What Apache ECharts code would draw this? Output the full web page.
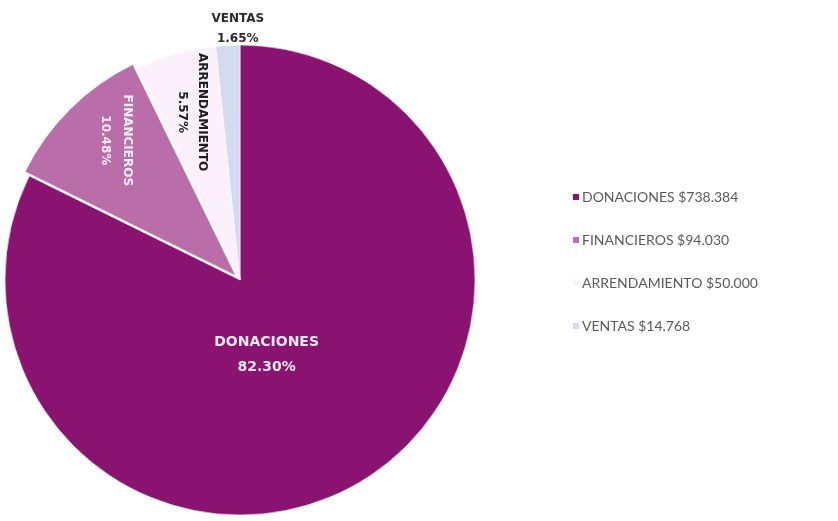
<!DOCTYPE html>
<html>
<head>
<meta charset="utf-8">
<script src="https://cdn.jsdelivr.net/npm/echarts@6/dist/echarts.min.js"></script>
<style>
  html, body { margin: 0; padding: 0; background: #fff; }
  #chart { width: 838px; height: 521px; }
</style>
</head>
<body>
<div id="chart"></div>
<script>
const categories = ['DONACIONES', 'FINANCIEROS', 'ARRENDAMIENTO', 'VENTAS']
const amounts = [738384, 94030, 50000, 14768]
const percentLabels = ['82.30%', '10.48%', '5.57%', '1.65%']

const colors = ['#8a1270', '#b96eaa', '#fcf0fa', '#d3dbf0']
// label tweaks per slice: text colour, size, rotation, nudge (in the label's own frame)
const labelColors = ['#f6e8f2', '#fbeef8', '#1e1e1e', '#2a2a2a']
const labelSizes = [14, 12, 12, 12]
const labelLines = [25, 22, 20, 20]
const labelRotate = [0, -90, -90, 0]
const labelShift = [[-37, -27], [-50, 35], [-52, 15], [4, -131]]

function money(v) {
  return '$' + String(v).replace(/\B(?=(\d{3})+(?!\d))/g, '.')
}

const chart = echarts.init(document.getElementById('chart'))

chart.setOption({
  backgroundColor: '#fff',
  animation: false,
  legend: {
    orient: 'vertical',
    left: 566,
    top: 184,
    itemWidth: 8,
    itemHeight: 8,
    itemGap: 27,
    icon: 'rect',
    data: categories,
    formatter: function(name) {
      return name + ' ' + money(amounts[categories.indexOf(name)])
    },
    textStyle: {
      fontFamily: 'Lato',
      fontSize: 14,
      lineHeight: 16,
      color: '#5a5a5a',
      padding: [0, 0, 0, -3]
    }
  },
  series: [
    {
      type: 'pie',
      center: [240, 280],
      radius: 235,
      startAngle: 90,
      clockwise: true,
      selectedMode: 'single',
      selectedOffset: 6,
      itemStyle: {
        borderColor: '#ffffff',
        borderWidth: 0.6
      },
      label: {
        show: true,
        position: 'inside',
        fontFamily: 'DejaVu Sans',
        fontWeight: 'bold'
      },
      labelLine: { show: false },
      labelLayout: function(params) {
        const s = labelShift[params.dataIndex]
        return { dx: s[0], dy: s[1] }
      },
      emphasis: { scale: false },
      data: categories.map((name, i) => ({
        name: name,
        value: amounts[i],
        selected: i === 1,
        itemStyle: { color: colors[i] },
        label: {
          color: labelColors[i],
          rotate: labelRotate[i],
          fontSize: labelSizes[i],
          lineHeight: labelLines[i],
          formatter: name + '\n' + percentLabels[i]
        }
      }))
    }
  ]
})
</script>
</body>
</html>
